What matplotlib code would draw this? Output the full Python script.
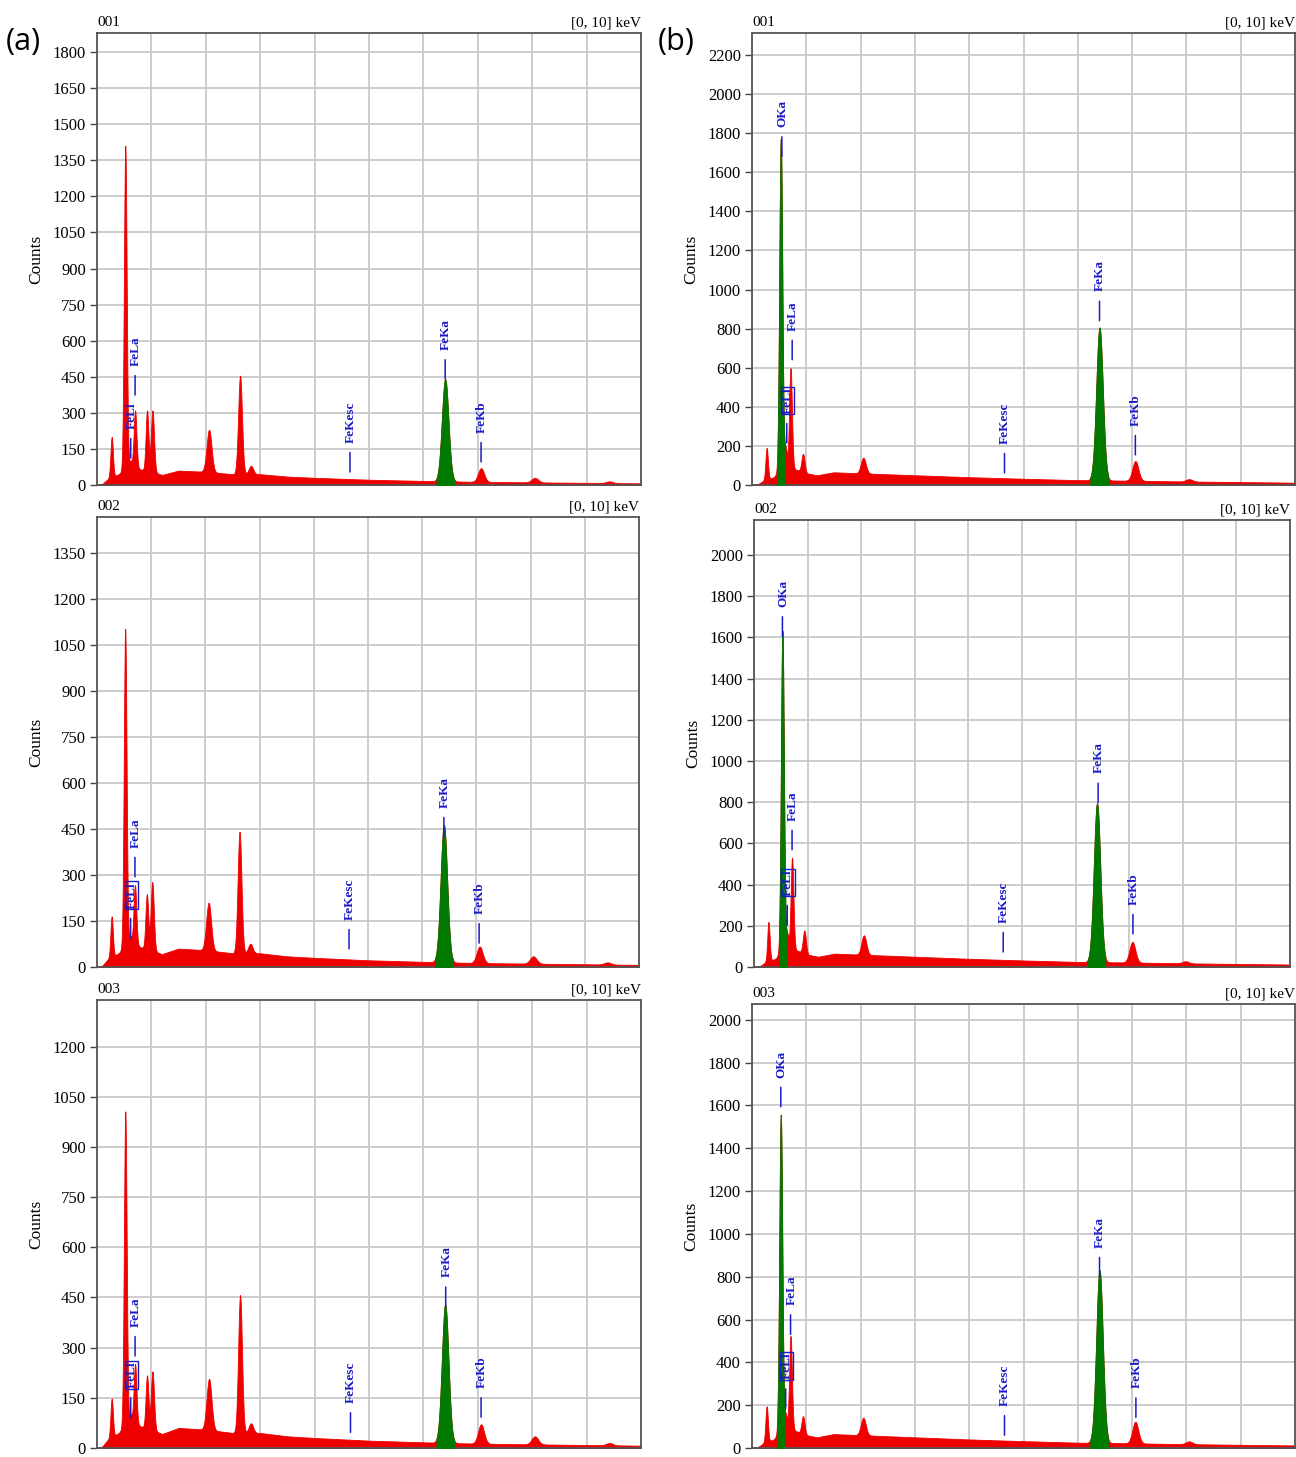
import numpy as np
import matplotlib
matplotlib.use("Agg")
import matplotlib.pyplot as plt

# ---- data ----
# continuum (background) counts at a few energies, one list per column
bg_energy = [0, 0.1, 0.2, 0.4, 0.6, 0.8, 1.0, 1.2, 1.5, 2.0, 2.5, 3.0, 3.5, 4.0, 5.0, 6.0, 7.0, 8.0, 9.0, 10.0]
bg_a = [0, 5, 25, 45, 80, 65, 55, 42, 60, 55, 45, 45, 35, 30, 22, 17, 13, 11, 9, 7]
bg_b = [0, 3, 20, 40, 100, 80, 60, 50, 65, 60, 55, 50, 45, 40, 32, 25, 22, 18, 15, 12]

# peak centres (keV), widths (keV) and peak-top counts
peak_e_a = [0.27, 0.52, 0.62, 0.70, 0.92, 1.02, 2.06, 2.63, 2.83, 6.40, 7.06, 8.05, 9.42]
peak_w_a = [0.022, 0.025, 0.022, 0.025, 0.025, 0.028, 0.045, 0.035, 0.04, 0.06, 0.055, 0.06, 0.06]
counts_a1 = [200, 1410, 100, 310, 310, 310, 230, 455, 80, 440, 70, 30, 15]
counts_a2 = [165, 1102, 100, 267, 237, 277, 210, 441, 76, 463, 67, 35, 15]
counts_a3 = [148, 1006, 100, 251, 217, 229, 207, 457, 74, 429, 71, 35, 15]

peak_e_b = [0.27, 0.53, 0.62, 0.71, 0.94, 2.05, 6.40, 7.06, 8.05]
peak_w_b = [0.022, 0.027, 0.022, 0.025, 0.028, 0.045, 0.06, 0.055, 0.06]
counts_b1 = [190, 1770, 190, 598, 160, 140, 806, 123, 30]
counts_b2 = [219, 1632, 162, 531, 178, 154, 795, 122, 28]
counts_b3 = [195, 1557, 157, 523, 149, 142, 830, 123, 31]

# green ROI windows (keV)
roi_a = [(6.24, 6.57)]
roi_b = [(0.47, 0.61), (6.23, 6.56)]

# peak labels: name, energy, count at bottom of marker line
labels_a1 = [("FeLl", 0.62, 112), ("FeLa", 0.70, 374), ("FeKesc", 4.65, 54), ("FeKa", 6.40, 440), ("FeKb", 7.06, 96)]
labels_a2 = [("FeLl", 0.62, 95), ("FeLa", 0.70, 294), ("FeKesc", 4.65, 59), ("FeKa", 6.40, 424), ("FeKb", 7.05, 78)]
labels_a3 = [("FeLl", 0.62, 92), ("FeLa", 0.70, 275), ("FeKesc", 4.66, 47), ("FeKa", 6.41, 423), ("FeKb", 7.06, 92)]
labels_b1 = [("OKa", 0.55, 1682), ("FeLl", 0.64, 215), ("FeLa", 0.74, 641), ("FeKesc", 4.65, 62), ("FeKa", 6.40, 841), ("FeKb", 7.06, 154)]
labels_b2 = [("OKa", 0.53, 1606), ("FeLl", 0.62, 204), ("FeLa", 0.71, 569), ("FeKesc", 4.65, 73), ("FeKa", 6.42, 798), ("FeKb", 7.07, 161)]
labels_b3 = [("OKa", 0.53, 1594), ("FeLl", 0.62, 185), ("FeLa", 0.71, 531), ("FeKesc", 4.65, 60), ("FeKa", 6.40, 799), ("FeKb", 7.07, 143)]

# ---- panel setup: name, pixel box (left, top, right, bottom), ylim top, last tick, tick step ----
W, H = 1296, 1457
panels = [
    ("001", (97, 33, 641, 485), 1879, 1800, 150, bg_a, peak_e_a, peak_w_a, counts_a1, roi_a, labels_a1, False),
    ("002", (97, 517, 639, 967), 1467, 1350, 150, bg_a, peak_e_a, peak_w_a, counts_a2, roi_a, labels_a2, True),
    ("003", (97, 1000, 641, 1448), 1339, 1200, 150, bg_a, peak_e_a, peak_w_a, counts_a3, roi_a, labels_a3, True),
    ("001", (752, 33, 1295, 485), 2313, 2200, 200, bg_b, peak_e_b, peak_w_b, counts_b1, roi_b, labels_b1, True),
    ("002", (754, 520, 1290, 967), 2170, 2000, 200, bg_b, peak_e_b, peak_w_b, counts_b2, roi_b, labels_b2, True),
    ("003", (752, 1004, 1295, 1448), 2074, 2000, 200, bg_b, peak_e_b, peak_w_b, counts_b3, roi_b, labels_b3, True),
]

RED = "#ee0000"
GREEN = "#007a00"
BLUE = "#1a1ac8"
SERIF = "Liberation Serif"

fig = plt.figure(figsize=(W / 100, H / 100), dpi=100)
energy = np.arange(0, 10.0001, 0.005)

for name, box, ymax, ytop, ystep, bg, pe, pw, pc, rois, labels, boxed in panels:
    l, t, r, b = box
    ax = fig.add_axes([l / W, 1 - b / H, (r - l) / W, (b - t) / H])

    # spectrum = continuum + peaks (peak heights given as read totals)
    cont = np.interp(energy, bg_energy, bg)
    spec = cont.copy()
    for e0, w, c in zip(pe, pw, pc):
        net = c - np.interp(e0, bg_energy, bg)
        spec += net * np.exp(-0.5 * ((energy - e0) / w) ** 2)

    ax.fill_between(energy, spec, color=RED, lw=0.6, edgecolor=RED, zorder=2)
    for lo, hi in rois:
        m = (energy >= lo) & (energy <= hi)
        ax.fill_between(energy[m], spec[m], color=GREEN, lw=0.6, edgecolor=GREEN, zorder=3)

    for lab, e0, y0 in labels:
        ax.annotate("", xy=(e0, y0), xytext=(0, 14), textcoords="offset points",
                    arrowprops=dict(arrowstyle="-", color=BLUE, lw=1.1, shrinkA=0, shrinkB=0),
                    zorder=5)
        bb = None
        if lab == "FeLl" and boxed:
            bb = dict(boxstyle="square,pad=0.05", fc="none", ec=BLUE, lw=1)
        ax.annotate(lab, xy=(e0, y0), xytext=(0.5, 21), textcoords="offset points",
                    rotation=90, ha="center", va="bottom", color=BLUE,
                    fontsize=9.5, fontweight="bold", family=SERIF, bbox=bb, zorder=6)

    ax.set_xlim(0, 10)
    ax.set_ylim(0, ymax)
    ax.set_xticks(range(11))
    ax.set_xticklabels([])
    ax.set_yticks(np.arange(0, ytop + 1, ystep))
    ax.tick_params(axis="x", length=0)
    ax.tick_params(axis="y", length=5, width=1, color="#444444", labelsize=12, pad=3)
    for tl in ax.get_yticklabels():
        tl.set_family(SERIF)
    ax.grid(True, color="#c8c8c8", lw=1.3, zorder=0)
    ax.set_axisbelow(True)
    for s in ax.spines.values():
        s.set_color("#555555")
        s.set_linewidth(1.3)

    ax.set_ylabel("Counts", family=SERIF, fontsize=12.5)
    ax.yaxis.set_label_coords(-53 / (r - l), 0.5)
    ax.text(0, 1.008, name, transform=ax.transAxes, ha="left", va="bottom", family=SERIF, fontsize=11)
    ax.text(1, 1.008, "[0, 10] keV", transform=ax.transAxes, ha="right", va="bottom", family=SERIF, fontsize=11)

fig.text(6 / W, 1 - 42 / H, "(a)", fontsize=22, family="Open Sans", va="center", ha="left")
fig.text(658 / W, 1 - 42 / H, "(b)", fontsize=22, family="Open Sans", va="center", ha="left")

fig.savefig("out.png", dpi=100)
